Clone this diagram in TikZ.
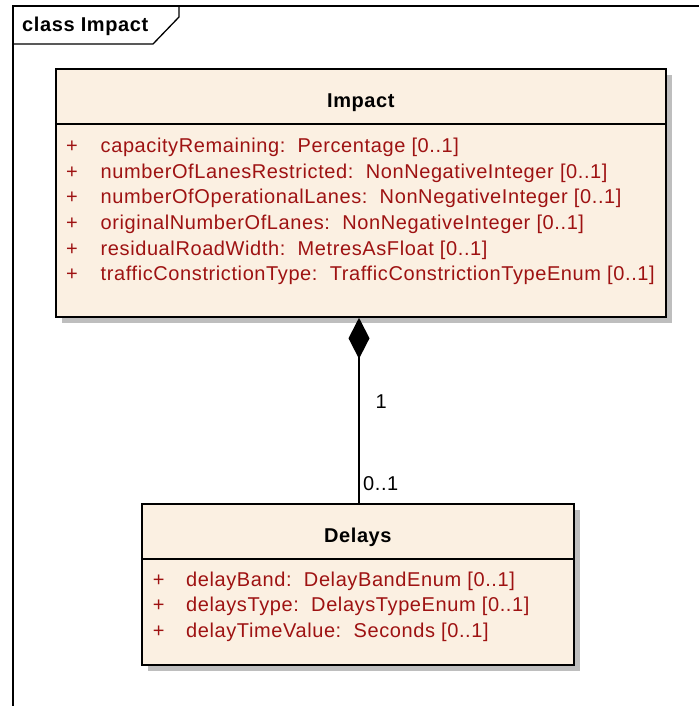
\documentclass[tikz,border=0pt]{standalone}
\usepackage{fontspec}
\setmainfont{Liberation Sans}[LetterSpace=3]
\usetikzlibrary{arrows.meta}
\definecolor{umlfill}{RGB}{251,240,226}
\definecolor{attrred}{RGB}{158,18,18}
\definecolor{shadowgray}{RGB}{190,190,190}
\begin{document}
\begin{tikzpicture}[x=1pt,y=-1pt,
  classbox/.style={draw=black, line width=1.6pt, fill=umlfill, rectangle, inner sep=0pt},
  shadowbox/.style={fill=shadowgray},
  attrtext/.style={anchor=base west, inner sep=0pt, text=attrred, font=\fontsize{20}{24}\selectfont},
  titletext/.style={anchor=base, inner sep=0pt, font=\fontsize{20}{24}\selectfont\bfseries},
  multtext/.style={anchor=base west, inner sep=0pt, font=\fontsize{20}{24}\selectfont},
  sepline/.style={draw=black, line width=1.3pt},
  frameline/.style={draw=black, line width=1.3pt}
]
\useasboundingbox (0,0) rectangle (699,706);
\fill[white] (0,0) rectangle (699,706);

% frame
\draw[frameline] (13,706) -- (13,6) -- (699,6);
\draw[frameline] (13,44) -- (153,44) -- (179,17) -- (179,6);
\node[anchor=base west, inner sep=0pt, font=\fontsize{20}{24}\selectfont\bfseries] (frametitle) at (22,31.7) {class Impact};

% Impact class
\fill[shadowbox] (61.7,75.3) rectangle (672,323);
\node[classbox, minimum width=610.3pt, minimum height=247.7pt] (impact) at (360.85,193.15) {};
\draw[sepline] (impact.west |- 0,124) -- (impact.east |- 0,124);
\node[titletext] (impacttitle) at (360.85,108) {Impact};
\foreach \i/\t in {0/{capacityRemaining:\ \ Percentage [0..1]},
                   1/{numberOfLanesRestricted:\ \ NonNegativeInteger [0..1]},
                   2/{numberOfOperationalLanes:\ \ NonNegativeInteger [0..1]},
                   3/{originalNumberOfLanes:\ \ NonNegativeInteger [0..1]},
                   4/{residualRoadWidth:\ \ MetresAsFloat [0..1]},
                   5/{trafficConstrictionType:\ \ TrafficConstrictionTypeEnum [0..1]}} {
  \node[attrtext] (ip\i) at (66,152.7+25.6*\i) {+};
  \node[attrtext] (ia\i) at (100.5,152.7+25.6*\i) {\t};
}

% Delays class
\fill[shadowbox] (147.7,510) rectangle (580,671);
\node[classbox, minimum width=432.3pt, minimum height=161pt] (delays) at (357.85,584.5) {};
\draw[sepline] (delays.west |- 0,559) -- (delays.east |- 0,559);
\node[titletext] (delaystitle) at (357.85,542.3) {Delays};
\foreach \i/\t in {0/{delayBand:\ \ DelayBandEnum [0..1]},
                   1/{delaysType:\ \ DelaysTypeEnum [0..1]},
                   2/{delayTimeValue:\ \ Seconds [0..1]}} {
  \node[attrtext] (dp\i) at (152.7,586.3+25.6*\i) {+};
  \node[attrtext] (da\i) at (186,586.3+25.6*\i) {\t};
}

% composition
\coordinate (cx) at (359,0);
\draw[line width=1.6pt, {Diamond[length=41pt,width=21pt,fill=black]}-]
  (impact.south -| cx) -- (delays.north -| cx);
\node[multtext] (m1) at (375.5,408.2) {1};
\node[multtext] (m2) at (363,490) {0..1};
\end{tikzpicture}
\end{document}
